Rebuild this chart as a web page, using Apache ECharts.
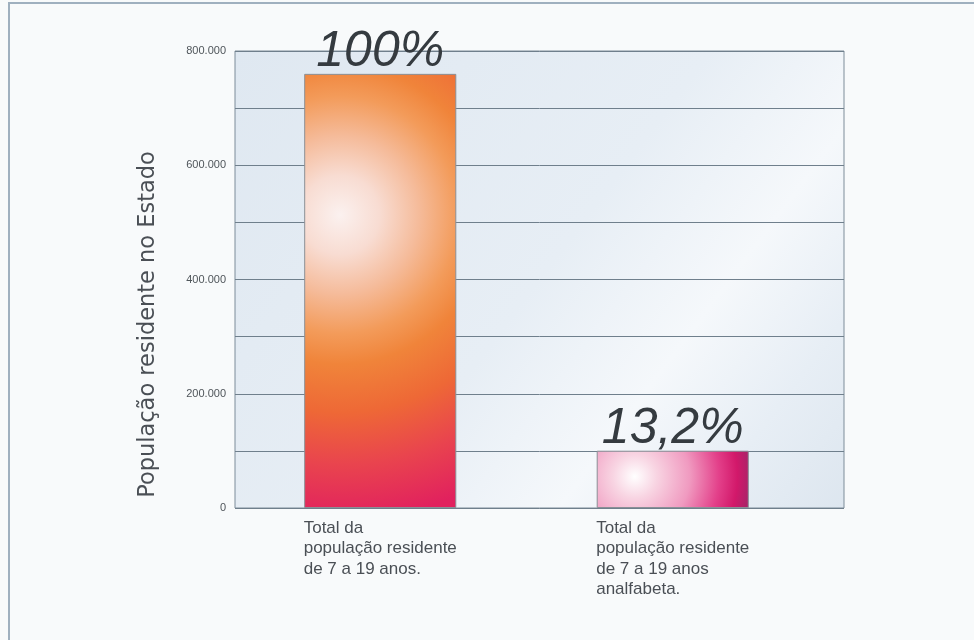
<!DOCTYPE html>
<html>
<head>
<meta charset="utf-8">
<script src="https://cdn.jsdelivr.net/npm/echarts@6/dist/echarts.min.js"></script>
<style>
  html, body { margin: 0; padding: 0; background: #f8fafb; }
  #frame { position: absolute; left: 8px; top: 2px; width: 966px; height: 638px;
           border-top: 2px solid #9fb0bf; border-left: 2px solid #9fb0bf; }
  #chart { position: absolute; left: 0; top: 0; width: 974px; height: 640px; }
</style>
</head>
<body>
<div id="frame"></div>
<div id="chart"></div>
<script>
// dados
const categorias = [
    'Total da\npopulação residente\nde 7 a 19 anos.',
    'Total da\npopulação residente\nde 7 a 19 anos\nanalfabeta.'
];
const populacao = [760000, 100300];
const percentuais = ['100%', '13,2%'];
const eixoY = { min: 0, max: 800000, passo: 100000 };

const chart = echarts.init(document.getElementById('chart'));

// brilho radial como no original
const corBarra1 = new echarts.graphic.RadialGradient(0.235, 0.325, 2.0, [
    { offset: 0, color: '#fbf1ef' },
    { offset: 0.13, color: '#f8dcd2' },
    { offset: 0.26, color: '#f5bb9a' },
    { offset: 0.39, color: '#f39b5a' },
    { offset: 0.49, color: '#f0843a' },
    { offset: 0.65, color: '#ee6836' },
    { offset: 0.82, color: '#e9444e' },
    { offset: 1, color: '#e1215e' }
]);
const corBarra2 = new echarts.graphic.RadialGradient(0.25, 0.45, 3.2, [
    { offset: 0, color: '#ffffff' },
    { offset: 0.12, color: '#f8d4e2' },
    { offset: 0.3, color: '#f09ac0' },
    { offset: 0.46, color: '#e3408a' },
    { offset: 0.56, color: '#d2186a' },
    { offset: 0.66, color: '#9a2868' }
]);
const coresBarras = [corBarra1, corBarra2];

function fmtMilhar(v) {
    if (v % 200000 !== 0) return '';
    return v === 0 ? '0' : String(v).replace(/\B(?=(\d{3})+(?!\d))/g, '.');
}

chart.setOption({
    animation: false,
    textStyle: { fontFamily: 'Liberation Sans, Arial, sans-serif' },
    grid: [
        {
            left: 235, right: 130, top: 51, bottom: 132, show: true,
            backgroundColor: new echarts.graphic.LinearGradient(0, 0, 1, 1, [
                { offset: 0, color: '#dfe8f1' },
                { offset: 0.5, color: '#e7eef5' },
                { offset: 0.7, color: '#f5f8fb' },
                { offset: 0.85, color: '#e7eef5' },
                { offset: 1, color: '#dde6ef' }
            ]),
            borderColor: '#7d8c99', borderWidth: 1
        },
        { left: 234, right: 155, top: 51, bottom: 132 }
    ],
    xAxis: [
        { gridIndex: 0, type: 'category', data: categorias, show: false },
        {
            gridIndex: 1, type: 'category', data: categorias,
            axisLine: { show: false }, axisTick: { show: false },
            axisLabel: {
                interval: 0, margin: 10, fontSize: 17, color: '#4a4f55',
                lineHeight: 20.5, verticalAlign: 'top',
                formatter: (v) => v.split('\n').map(l => '{a|' + l + '}').join('\n'),
                rich: { a: { align: 'left', fontSize: 17, lineHeight: 20.5, color: '#4a4f55' } }
            }
        }
    ],
    yAxis: [
        {
            gridIndex: 0, type: 'value', min: eixoY.min, max: eixoY.max, interval: eixoY.passo,
            name: 'População residente no Estado', nameLocation: 'middle', nameGap: 75,
            nameTextStyle: { fontSize: 22.5, color: '#4a4f55', fontFamily: 'DejaVu Sans', padding: [0, 90, 0, 0] },
            axisLine: { show: false }, axisTick: { show: false },
            axisLabel: { fontSize: 11, color: '#4f555a', margin: 9, formatter: fmtMilhar },
            splitLine: { lineStyle: { color: '#6f7f8c', width: 1 } }
        },
        {
            gridIndex: 1, type: 'value', min: eixoY.min, max: eixoY.max, interval: eixoY.passo,
            show: false, splitLine: { show: false }
        }
    ],
    series: [{
        type: 'bar',
        xAxisIndex: 1, yAxisIndex: 1,
        barWidth: '52%',
        data: populacao.map((v, i) => ({
            value: v,
            itemStyle: { color: coresBarras[i], borderColor: '#8a8f96', borderWidth: 1 }
        })),
        label: {
            show: true, position: 'top', distance: -3,
            formatter: (p) => percentuais[p.dataIndex],
            fontSize: 50, fontStyle: 'italic', color: '#353b40'
        }
    }]
});
</script>
</body>
</html>
